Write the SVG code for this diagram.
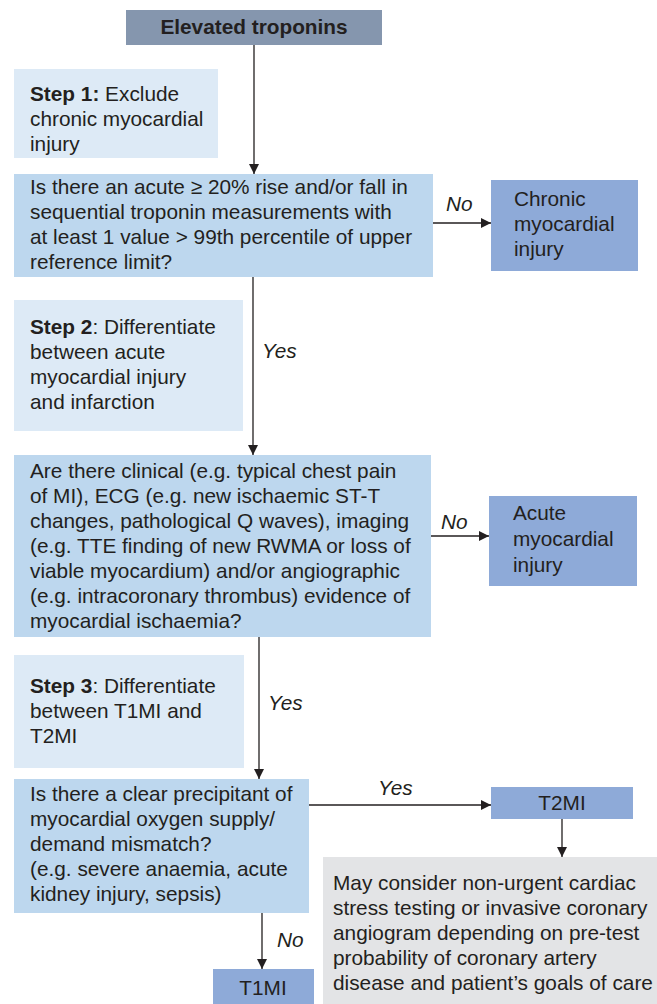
<svg xmlns="http://www.w3.org/2000/svg" width="657" height="1004" viewBox="0 0 657 1004">
<defs>
<marker id="ah" markerWidth="10" markerHeight="10" refX="10" refY="5" orient="auto" markerUnits="userSpaceOnUse">
<path d="M0,0 L10,5 L0,10 Z" fill="#231f20"/>
</marker>
<style>
text{font-family:"Liberation Sans",Arial,sans-serif;font-size:20.8px;fill:#231f20}
.b{font-weight:bold}
.i{font-style:italic}
.top{fill:#8596ae}
.step{fill:#ddeaf6}
.q{fill:#bdd7ee}
.res{fill:#8eaad8}
.gray{fill:#e3e4e6}
.ln{stroke:#231f20;stroke-width:1.3;fill:none;marker-end:url(#ah)}
</style>
</defs>
<rect width="657" height="1004" fill="#fff"/>
<g id="connectors">
<line class="ln" x1="254" y1="45" x2="254" y2="174"/>
<line class="ln" x1="433" y1="223" x2="491" y2="223"/>
<line class="ln" x1="253" y1="277" x2="253" y2="455"/>
<line class="ln" x1="431" y1="536" x2="489" y2="536"/>
<line class="ln" x1="259" y1="637" x2="259" y2="779"/>
<line class="ln" x1="309" y1="805" x2="491" y2="805"/>
<line class="ln" x1="562" y1="819" x2="562" y2="857"/>
<line class="ln" x1="262" y1="913" x2="262" y2="969"/>
<text class="i" x="446" y="211">No</text>
<text class="i" x="262" y="358">Yes</text>
<text class="i" x="441" y="529">No</text>
<text class="i" x="268" y="710">Yes</text>
<text class="i" x="378" y="795">Yes</text>
<text class="i" x="277" y="947">No</text>
</g>
<g id="n-top">
<rect class="top" x="126" y="10" width="256" height="35"/>
<text class="b" x="254" y="34" text-anchor="middle">Elevated troponins</text>
</g>
<g id="n-step1">
<rect class="step" x="14" y="69" width="204" height="89"/>
<text x="30" y="101"><tspan class="b">Step 1:</tspan> Exclude</text>
<text x="30" y="126">chronic myocardial</text>
<text x="30" y="151">injury</text>
</g>
<g id="n-q1">
<rect class="q" x="14" y="174" width="419" height="103"/>
<text x="30" y="193.5">Is there an acute ≥ 20% rise and/or fall in</text>
<text x="30" y="218.5">sequential troponin measurements with</text>
<text x="30" y="243.5">at least 1 value &gt; 99th percentile of upper</text>
<text x="30" y="268.5">reference limit?</text>
</g>
<g id="n-chronic">
<rect class="res" x="491" y="180" width="147" height="91"/>
<text x="514" y="205.5">Chronic</text>
<text x="514" y="231">myocardial</text>
<text x="514" y="256">injury</text>
</g>
<g id="n-step2">
<rect class="step" x="14" y="300" width="229" height="131"/>
<text x="30" y="334"><tspan class="b">Step 2</tspan>: Differentiate</text>
<text x="30" y="359">between acute</text>
<text x="30" y="384">myocardial injury</text>
<text x="30" y="409">and infarction</text>
</g>
<g id="n-q2">
<rect class="q" x="14" y="455" width="417" height="182"/>
<text x="30" y="478">Are there clinical (e.g. typical chest pain</text>
<text x="30" y="503">of MI), ECG (e.g. new ischaemic ST-T</text>
<text x="30" y="528">changes, pathological Q waves), imaging</text>
<text x="30" y="553">(e.g. TTE finding of new RWMA or loss of</text>
<text x="30" y="578">viable myocardium) and/or angiographic</text>
<text x="30" y="603">(e.g. intracoronary thrombus) evidence of</text>
<text x="30" y="628">myocardial ischaemia?</text>
</g>
<g id="n-acute">
<rect class="res" x="489" y="496" width="148" height="90"/>
<text x="513" y="520">Acute</text>
<text x="513" y="546">myocardial</text>
<text x="513" y="572">injury</text>
</g>
<g id="n-step3">
<rect class="step" x="14" y="655" width="230" height="113"/>
<text x="30" y="693"><tspan class="b">Step 3</tspan>: Differentiate</text>
<text x="30" y="718">between T1MI and</text>
<text x="30" y="743">T2MI</text>
</g>
<g id="n-q3">
<rect class="q" x="14" y="779" width="295" height="134"/>
<text x="30" y="801">Is there a clear precipitant of</text>
<text x="30" y="826">myocardial oxygen supply/</text>
<text x="30" y="851">demand mismatch?</text>
<text x="30" y="876">(e.g. severe anaemia, acute</text>
<text x="30" y="901">kidney injury, sepsis)</text>
</g>
<g id="n-t2mi">
<rect class="res" x="491" y="787" width="142" height="32"/>
<text x="562" y="810" text-anchor="middle">T2MI</text>
</g>
<g id="n-care">
<rect class="gray" x="323" y="857" width="334" height="147"/>
<text x="333" y="890">May consider non-urgent cardiac</text>
<text x="333" y="915">stress testing or invasive coronary</text>
<text x="333" y="940">angiogram depending on pre-test</text>
<text x="333" y="965">probability of coronary artery</text>
<text x="333" y="990">disease and patient’s goals of care</text>
</g>
<g id="n-t1mi">
<rect class="res" x="213" y="969" width="101" height="35"/>
<text x="263" y="995" text-anchor="middle">T1MI</text>
</g>
</svg>
